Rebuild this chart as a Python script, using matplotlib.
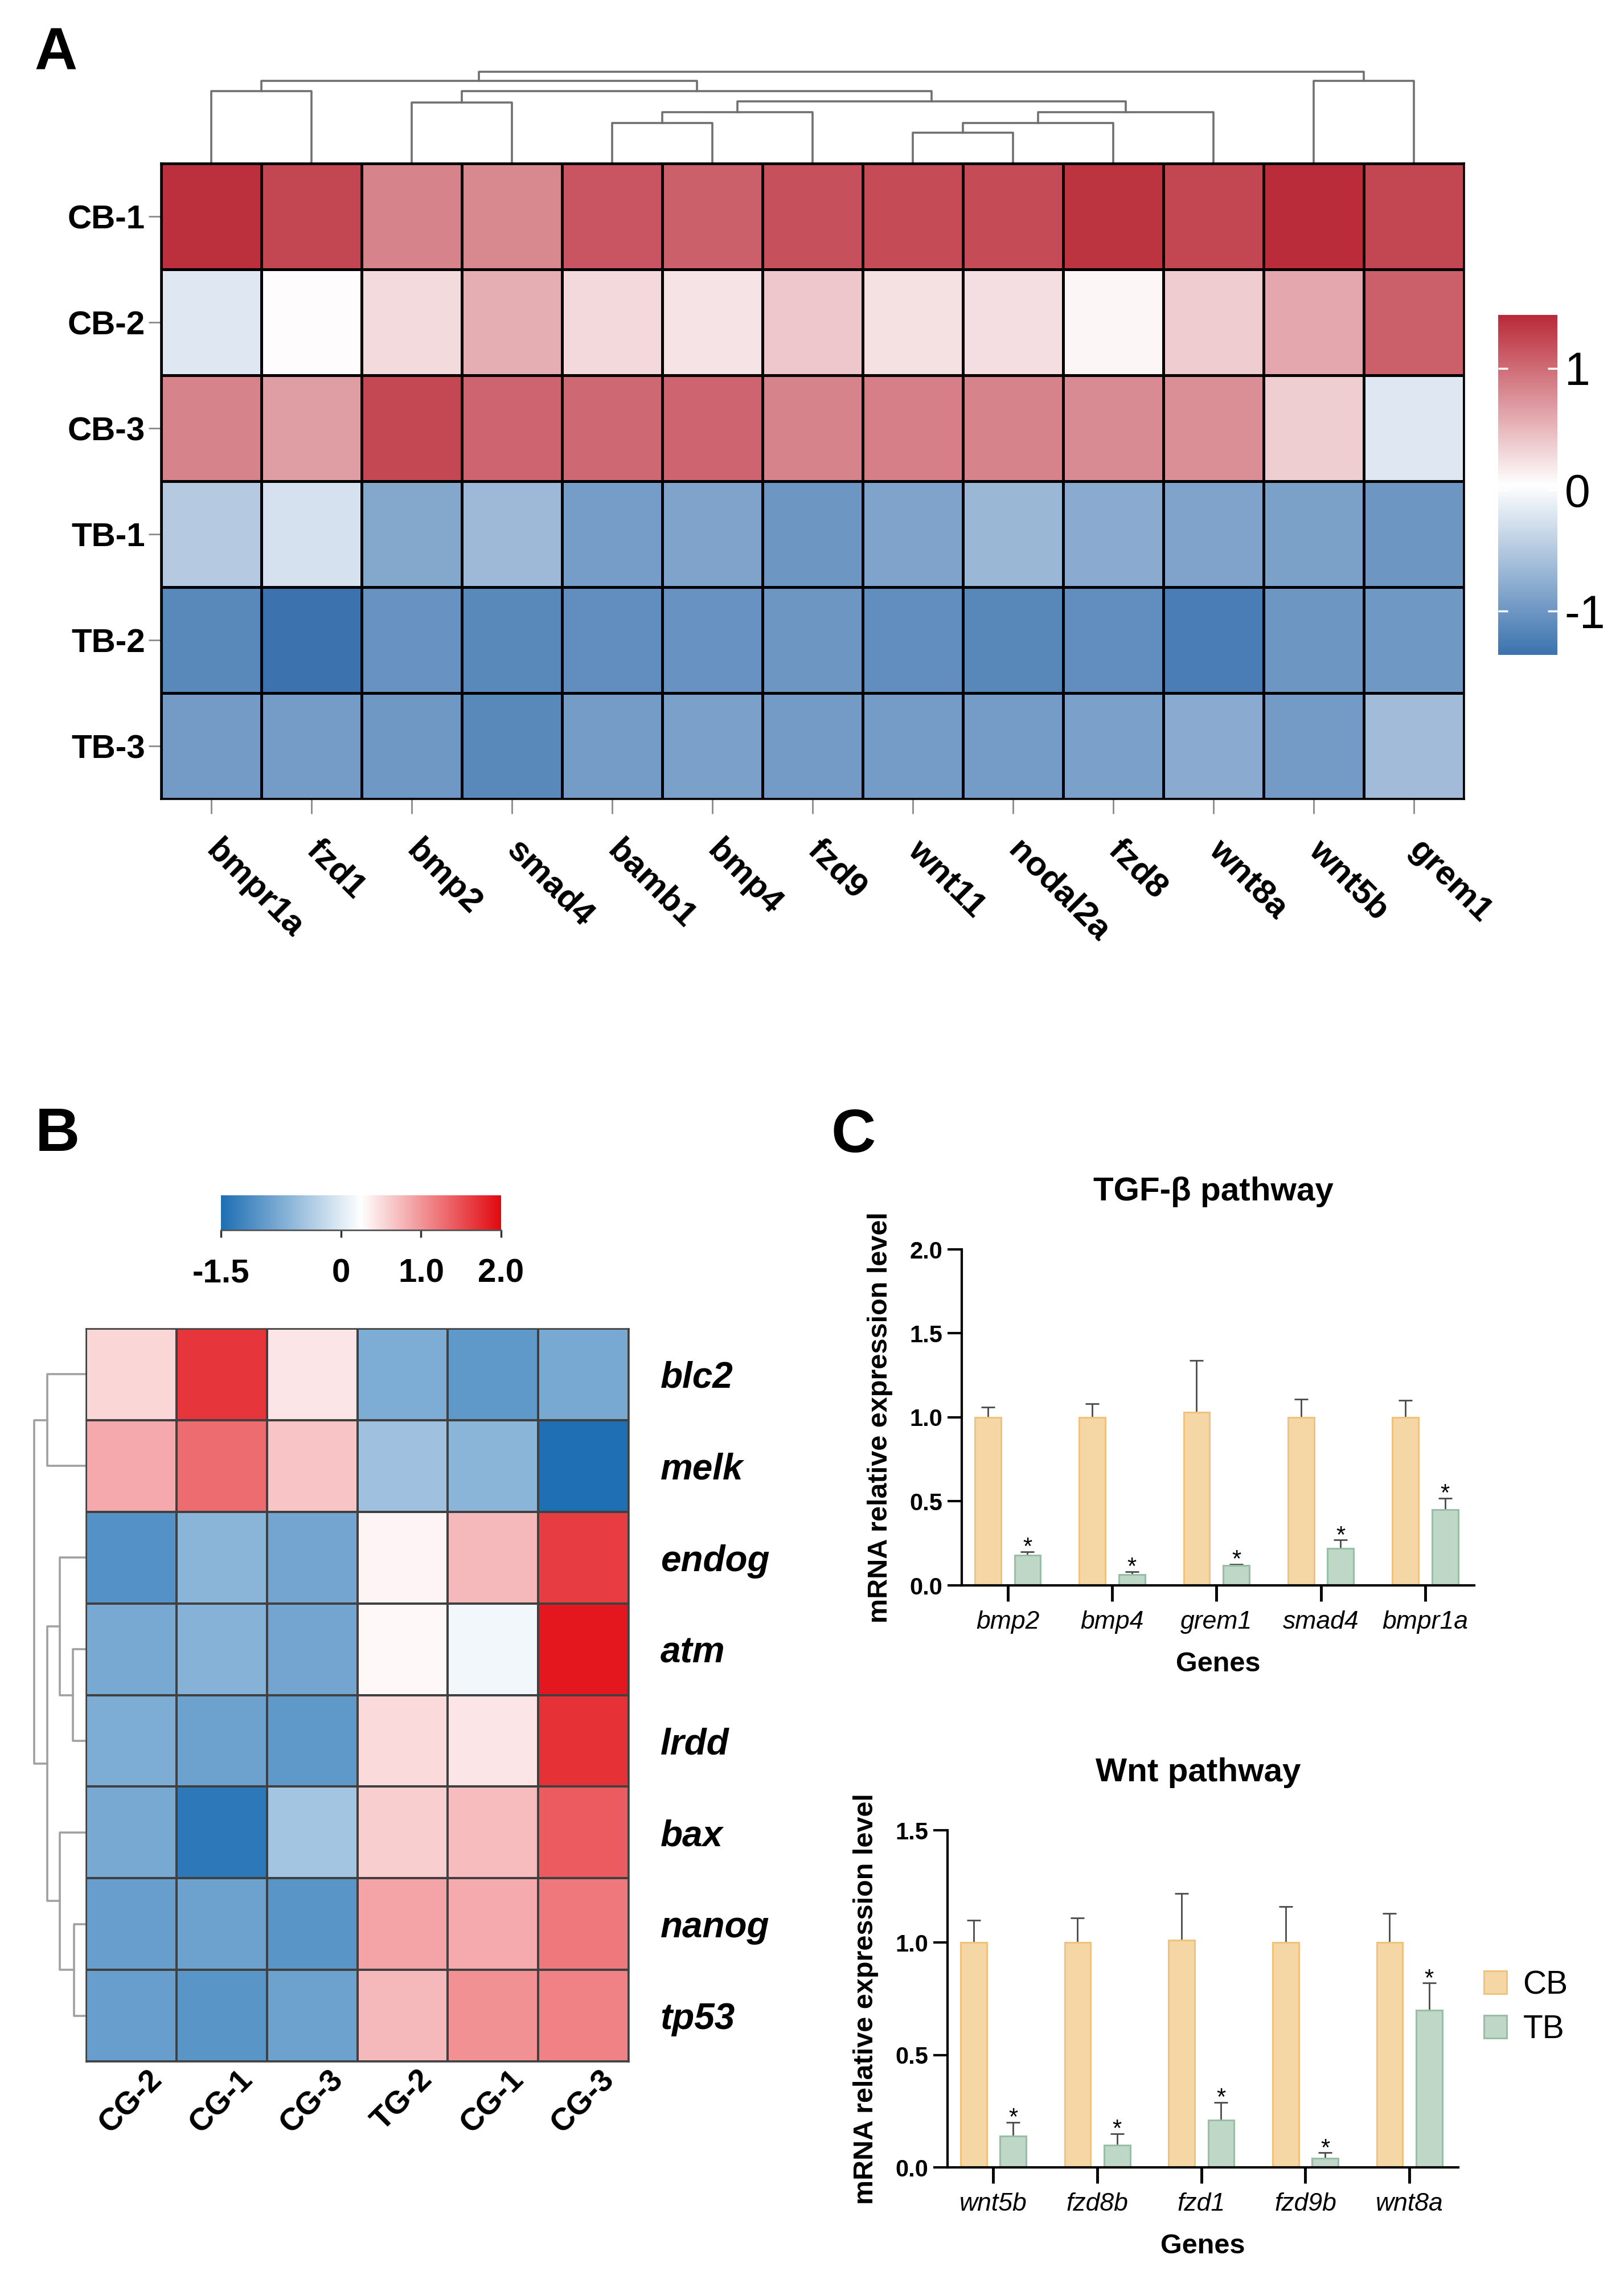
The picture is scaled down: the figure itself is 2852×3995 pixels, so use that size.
import numpy as np
import matplotlib
matplotlib.use('Agg')
import matplotlib.pyplot as plt
from matplotlib.colors import LinearSegmentedColormap, Normalize

W, H = 2852, 3995
plt.rcParams['font.family'] = ['Liberation Sans', 'DejaVu Sans']

# ---------------- panel A: clustered heatmap ----------------
a_samples = ['CB-1', 'CB-2', 'CB-3', 'TB-1', 'TB-2', 'TB-3']
a_genes = ['bmpr1a', 'fzd1', 'bmp2', 'smad4', 'bamb1', 'bmp4', 'fzd9',
           'wnt11', 'nodal2a', 'fzd8', 'wnt8a', 'wnt5b', 'grem1']
a_z = [
    [1.40, 1.25, 0.85, 0.82, 1.15, 1.08, 1.18, 1.22, 1.22, 1.37, 1.25, 1.42, 1.25],
    [-0.19, 0.06, 0.27, 0.57, 0.29, 0.22, 0.41, 0.24, 0.25, 0.10, 0.37, 0.61, 1.08],
    [0.85, 0.68, 1.24, 1.05, 1.03, 1.05, 0.85, 0.88, 0.85, 0.80, 0.78, 0.36, -0.20],
    [-0.49, -0.26, -0.84, -0.66, -0.94, -0.87, -1.00, -0.87, -0.68, -0.80, -0.87, -0.90, -1.00],
    [-1.15, -1.36, -1.05, -1.15, -1.08, -1.05, -1.00, -1.08, -1.16, -1.08, -1.26, -1.00, -0.98],
    [-0.96, -0.95, -0.98, -1.15, -0.95, -0.91, -0.96, -0.95, -0.95, -0.91, -0.80, -0.96, -0.63],
]
# column dendrogram: (left node, right node, merge height); leaves are 0..12
a_merges = [(0, 1, 124), (2, 3, 105), (4, 5, 69), (15, 6, 88), (7, 8, 53),
            (17, 9, 69), (18, 10, 88), (16, 19, 107), (14, 20, 124),
            (13, 21, 142), (11, 12, 142), (22, 23, 158)]
a_ticks = [-1, 0, 1]
a_ticklabels = ['-1', '0', '1']
a_range = (-1.36, 1.44)

# ---------------- panel B: apoptosis genes heatmap ----------------
b_genes = ['blc2', 'melk', 'endog', 'atm', 'lrdd', 'bax', 'nanog', 'tp53']
b_samples = ['CG-2', 'CG-1', 'CG-3', 'TG-2', 'CG-1', 'CG-3']
b_z = [
    [0.55, 1.68, 0.44, -0.76, -0.99, -0.80],
    [0.86, 1.29, 0.67, -0.49, -0.64, -1.50],
    [-1.08, -0.64, -0.84, 0.32, 0.75, 1.64],
    [-0.80, -0.68, -0.84, 0.30, 0.15, 1.90],
    [-0.76, -0.88, -0.99, 0.52, 0.43, 1.71],
    [-0.80, -1.38, -0.45, 0.60, 0.72, 1.42],
    [-0.92, -0.88, -1.03, 0.90, 0.84, 1.21],
    [-0.92, -1.03, -0.88, 0.75, 1.04, 1.14],
]
b_merges = [(0, 1, 68), (3, 4, 23), (2, 9, 46), (6, 7, 21), (5, 11, 46),
            (10, 12, 68), (8, 13, 91)]
b_ticks = [-1.5, 0, 1.0, 2.0]
b_ticklabels = ['-1.5', '0', '1.0', '2.0']
b_range = (-1.5, 2.0)

# ---------------- panel C: qPCR bars ----------------
tgf_genes = ['bmp2', 'bmp4', 'grem1', 'smad4', 'bmpr1a']
tgf_cb = [1.00, 1.00, 1.03, 1.00, 1.00]
tgf_cb_err = [0.06, 0.08, 0.31, 0.11, 0.10]
tgf_tb = [0.18, 0.065, 0.12, 0.22, 0.45]
tgf_tb_err = [0.02, 0.016, 0.007, 0.05, 0.07]

wnt_genes = ['wnt5b', 'fzd8b', 'fzd1', 'fzd9b', 'wnt8a']
wnt_cb = [1.00, 1.00, 1.01, 1.00, 1.00]
wnt_cb_err = [0.10, 0.11, 0.21, 0.16, 0.13]
wnt_tb = [0.14, 0.10, 0.21, 0.04, 0.70]
wnt_tb_err = [0.06, 0.05, 0.08, 0.025, 0.12]

cmap_a = LinearSegmentedColormap.from_list('a', ['#3C73AF', '#FFFFFF', '#BA2A38'])
cmap_b = LinearSegmentedColormap.from_list('b', ['#1E6FB4', '#FFFFFF', '#E10A10'])
cb_face, cb_edge = '#F5D7A6', '#F0C27C'
tb_face, tb_edge = '#BED7C7', '#98BEA5'


def px_axes(fig, x0, y0, x1, y1):
    # axes from pixel box (top-left origin)
    return fig.add_axes([x0 / W, 1 - y1 / H, (x1 - x0) / W, (y1 - y0) / H])


def draw_dendro(ax, merges, n, vertical, **kw):
    pos = {i: i + 0.5 for i in range(n)}
    hgt = {i: 0.0 for i in range(n)}
    for k, (a, b, h) in enumerate(merges):
        xs = [pos[a], pos[a], pos[b], pos[b]]
        ys = [hgt[a], h, h, hgt[b]]
        if vertical:
            ax.plot(xs, ys, clip_on=False, solid_capstyle='projecting', **kw)
        else:
            ax.plot(ys, xs, clip_on=False, solid_capstyle='projecting', **kw)
        pos[n + k] = (pos[a] + pos[b]) / 2
        hgt[n + k] = h
    ax.axis('off')


fig = plt.figure(figsize=(W / 100, H / 100), dpi=100)

# ---- A ----
fig.text(60 / W, 1 - 95 / H, 'A', fontsize=75, fontweight='bold', va='center', ha='left')

ax_ad = px_axes(fig, 283, 100, 2571, 287)
draw_dendro(ax_ad, a_merges, len(a_genes), True, color='#707070', lw=2.6)
ax_ad.set_xlim(0, len(a_genes))
ax_ad.set_ylim(0, 183)

ax_a = px_axes(fig, 283, 287, 2571, 1403)
norm_a = Normalize(*a_range)
ax_a.pcolormesh(np.array(a_z), cmap=cmap_a, norm=norm_a, edgecolors='black', linewidth=2.4)
ax_a.set_xlim(0, len(a_genes))
ax_a.set_ylim(len(a_samples), 0)
ax_a.set_yticks(np.arange(len(a_samples)) + 0.5)
ax_a.set_yticklabels(a_samples, fontsize=42, fontweight='bold')
ax_a.set_xticks(np.arange(len(a_genes)) + 0.5)
ax_a.set_xticklabels(a_genes, fontsize=43, fontweight='bold', rotation=-45,
                     rotation_mode='anchor', ha='left', va='center')
ax_a.tick_params(axis='y', length=16, width=2, color='#8A8A8A', pad=4)
ax_a.tick_params(axis='x', length=19, width=2, color='#8A8A8A', pad=40)
for s in ax_a.spines.values():
    s.set_linewidth(2.6)

ax_ac = px_axes(fig, 2631, 553, 2735, 1150)
grad_a = np.linspace(a_range[0], a_range[1], 256).reshape(-1, 1)
ax_ac.imshow(grad_a, cmap=cmap_a, norm=norm_a, aspect='auto', origin='lower',
             extent=(0, 1, a_range[0], a_range[1]))
ax_ac.set_xticks([])
ax_ac.set_yticks(a_ticks)
ax_ac.set_yticklabels(a_ticklabels, fontsize=58)
ax_ac.yaxis.set_ticks_position('both')
ax_ac.tick_params(axis='y', direction='in', length=12, width=2.5, color='white',
                  labelleft=False, labelright=True, pad=9)
for s in ax_ac.spines.values():
    s.set_visible(False)

# ---- B ----
fig.text(62 / W, 1 - 1993 / H, 'B', fontsize=78, fontweight='bold', va='center', ha='left')

ax_bc = px_axes(fig, 388, 2099, 880, 2160)
grad_b = np.linspace(b_range[0], b_range[1], 256).reshape(1, -1)
norm_b = Normalize(*b_range)
ax_bc.imshow(grad_b, cmap=cmap_b, norm=norm_b, aspect='auto',
             extent=(b_range[0], b_range[1], 0, 1))
ax_bc.set_yticks([])
ax_bc.set_xticks(b_ticks)
ax_bc.set_xticklabels(b_ticklabels, fontsize=42, fontweight='bold')
ax_bc.tick_params(axis='x', length=9, width=2.5, color='#333333', pad=27)
for side in ['top', 'left', 'right']:
    ax_bc.spines[side].set_visible(False)
ax_bc.spines['bottom'].set_color('#555555')
ax_bc.spines['bottom'].set_linewidth(2)

ax_bd = px_axes(fig, 40, 2333, 151, 3620)
draw_dendro(ax_bd, b_merges, len(b_genes), False, color='#A0A0A0', lw=2.6)
ax_bd.set_xlim(111, 0)
ax_bd.set_ylim(len(b_genes), 0)

ax_b = px_axes(fig, 151, 2333, 1104, 3620)
ax_b.pcolormesh(np.array(b_z), cmap=cmap_b, norm=norm_b, edgecolors='#404040', linewidth=1.6)
ax_b.set_xlim(0, len(b_samples))
ax_b.set_ylim(len(b_genes), 0)
ax_b.yaxis.tick_right()
ax_b.set_yticks(np.arange(len(b_genes)) + 0.5)
ax_b.set_yticklabels(b_genes, fontsize=46, fontweight='bold', fontstyle='italic')
ax_b.set_xticks(np.arange(len(b_samples)) + 0.5)
ax_b.set_xticklabels(b_samples, fontsize=40, fontweight='bold', rotation=45,
                     ha='center', va='top')
ax_b.tick_params(axis='y', length=0, pad=40)
ax_b.tick_params(axis='x', length=0, pad=4)
for s in ax_b.spines.values():
    s.set_color('#404040')
    s.set_linewidth(1.8)

# ---- C ----
fig.text(1460 / W, 1 - 1995 / H, 'C', fontsize=78, fontweight='bold', va='center', ha='left')


def bar_panel(box, genes, cb, cb_err, tb, tb_err, ymax, title, title_y, legend=False):
    ax = px_axes(fig, *box)
    x = np.arange(len(genes))
    off, wid = 0.19, 0.25
    ax.bar(x - off, cb, wid, color=cb_face, edgecolor=cb_edge, linewidth=2.2, label='CB', zorder=2)
    ax.bar(x + off, tb, wid, color=tb_face, edgecolor=tb_edge, linewidth=2.2, label='TB', zorder=2)
    ax.errorbar(x - off, cb, yerr=[np.zeros(len(cb)), cb_err], fmt='none', ecolor='#4A4A4A',
                elinewidth=2, capsize=8.5, capthick=2, zorder=1)
    ax.errorbar(x + off, tb, yerr=[np.zeros(len(tb)), tb_err], fmt='none', ecolor='#4A4A4A',
                elinewidth=2, capsize=8.5, capthick=2, zorder=1)
    for xi, v, e in zip(x + off, tb, tb_err):
        ax.annotate('*', (xi, v + e), xytext=(0, -3), textcoords='offset points',
                    ha='center', va='baseline', fontsize=30)
    ax.set_xlim(-0.44, len(genes) - 0.53)
    ax.set_ylim(0, ymax)
    ax.set_yticks(np.arange(0, ymax + 0.01, 0.5))
    ax.set_yticklabels([f'{v:.1f}' for v in np.arange(0, ymax + 0.01, 0.5)],
                       fontsize=30, fontweight='bold')
    ax.set_xticks(x)
    ax.set_xticklabels(genes, fontsize=32, fontstyle='italic')
    ax.tick_params(axis='y', length=18, width=3, pad=6)
    ax.tick_params(axis='x', length=20, width=3.5, pad=12)
    for side in ['top', 'right']:
        ax.spines[side].set_visible(False)
    for side in ['left', 'bottom']:
        ax.spines[side].set_linewidth(3)
    ax.set_xlabel('Genes', fontsize=35, fontweight='bold', labelpad=22)
    ax.set_ylabel('mRNA relative expression level', fontsize=35, fontweight='bold')
    ax.yaxis.set_label_coords(-0.135, 0.5)
    fig.text(np.mean(box[::2]) / W - 0.003, 1 - title_y / H, title, fontsize=42,
             fontweight='bold', ha='center', va='center')
    if legend:
        ax.legend(loc='center left', bbox_to_anchor=(2606 / W, 1 - 3525 / H),
                  bbox_transform=fig.transFigure, frameon=False, fontsize=41,
                  handlelength=0.7, handleheight=0.7, handletextpad=0.5,
                  labelspacing=0.42, borderpad=0, borderaxespad=0)
    return ax


bar_panel((1689, 2194, 2589, 2784), tgf_genes, tgf_cb, tgf_cb_err, tgf_tb, tgf_tb_err,
          2.0, 'TGF-β pathway', 2093)
bar_panel((1664, 3214, 2561, 3806), wnt_genes, wnt_cb, wnt_cb_err, wnt_tb, wnt_tb_err,
          1.5, 'Wnt pathway', 3113, legend=True)

fig.savefig('out.png', dpi=100)
